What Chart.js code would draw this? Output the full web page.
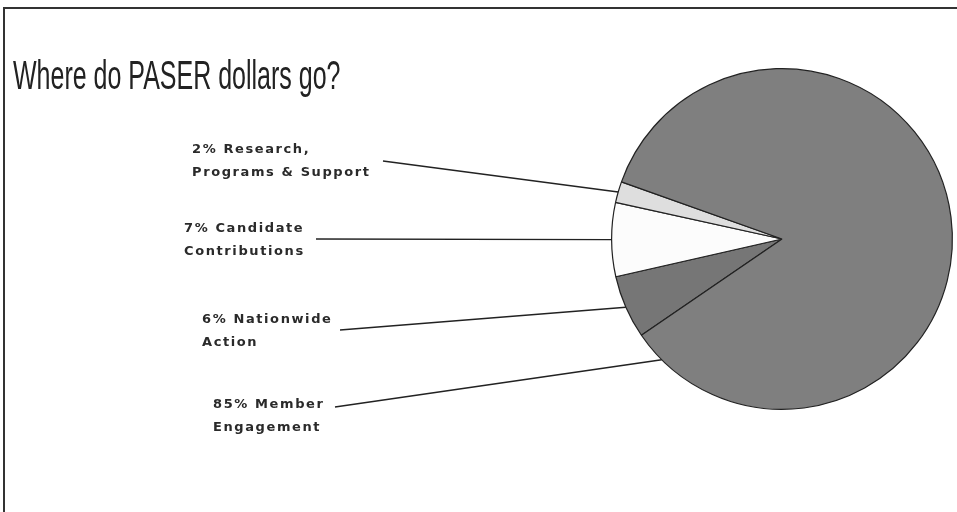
<!DOCTYPE html>
<html>
<head>
<meta charset="utf-8">
<script src="https://cdn.jsdelivr.net/npm/chart.js@4"></script>
<style>
  html, body { margin: 0; padding: 0; background: #fff; }
  #wrap { width: 957px; height: 512px; position: relative; }
</style>
</head>
<body>
<div id="wrap"><canvas id="graph1" width="957" height="512"></canvas></div>
<script>
// slices in clockwise order, starting with the dark 6% slice
let categories = ["Nationwide Action", "Candidate Contributions", "Research, Programs & Support", "Member Engagement"];
let shares = [6, 7, 2, 85];
let labelLines = [
  ["6% Nationwide", "Action"],
  ["7% Candidate", "Contributions"],
  ["2% Research,", "Programs & Support"],
  ["85% Member", "Engagement"]
];
let sliceColors = ["#767676", "#fcfcfc", "#dedede", "#7f7f7f"];

// where each label text sits and where its leader line starts (left side)
let labelBoxes = [
  { x: 202, y: 320, lineFrom: [340, 330], at: 0.5 },
  { x: 184, y: 229, lineFrom: [316, 239], at: 0.5 },
  { x: 192, y: 150, lineFrom: [383, 161], at: 0.5 },
  { x: 213, y: 405, lineFrom: [335, 407], at: 0.965 }
];

const pageDeco = {
  id: "pageDeco",
  beforeDraw(chart) {
    let ctx = chart.ctx;
    ctx.save();
    ctx.fillStyle = "#fff";
    ctx.fillRect(0, 0, chart.width, chart.height);
    // frame, cut off at right and bottom like the scan
    ctx.strokeStyle = "#333";
    ctx.lineWidth = 2;
    ctx.beginPath();
    ctx.moveTo(4, chart.height + 2);
    ctx.lineTo(4, 8);
    ctx.lineTo(chart.width + 2, 8);
    ctx.stroke();
    ctx.restore();
  },
  afterDraw(chart) {
    let ctx = chart.ctx;
    // title, squeezed like the original
    ctx.save();
    ctx.fillStyle = "#222";
    ctx.font = "40px 'Liberation Sans', Arial, sans-serif";
    ctx.textBaseline = "alphabetic";
    ctx.translate(13, 89);
    ctx.scale(0.625, 1);
    ctx.fillText("Where do PASER dollars go?", 0, 0);
    ctx.restore();

    // labels and leader lines
    let arcs = chart.getDatasetMeta(0).data;
    ctx.save();
    ctx.fillStyle = "#2a2a2a";
    ctx.strokeStyle = "#222";
    ctx.lineWidth = 1.4;
    ctx.font = "bold 13px 'DejaVu Sans', sans-serif";
    ctx.letterSpacing = "1.6px";
    ctx.textBaseline = "middle";
    for (let i = 0; i < arcs.length; i++) {
      let a = arcs[i];
      let box = labelBoxes[i];
      let ang = a.startAngle + (a.endAngle - a.startAngle) * box.at;
      let ex = a.x + Math.cos(ang) * a.outerRadius;
      let ey = a.y + Math.sin(ang) * a.outerRadius;
      ctx.beginPath();
      ctx.moveTo(box.lineFrom[0], box.lineFrom[1]);
      ctx.lineTo(ex, ey);
      ctx.stroke();
      for (let j = 0; j < labelLines[i].length; j++) {
        ctx.fillText(labelLines[i][j], box.x, box.y + j * 23);
      }
    }
    ctx.restore();
  }
};

let ctx = document.getElementById("graph1");
new Chart(ctx, {
  type: "pie",
  data: {
    labels: categories,
    datasets: [
      {
        data: shares,
        backgroundColor: sliceColors,
        borderColor: "#222",
        borderWidth: 1.2,
        hoverOffset: 0
      }
    ]
  },
  options: {
    responsive: false,
    animation: false,
    rotation: 235.6,
    layout: {
      padding: { left: 611, right: 4, top: 68, bottom: 102 }
    },
    plugins: {
      legend: { display: false },
      tooltip: { enabled: false }
    }
  },
  plugins: [pageDeco]
});
</script>
</body>
</html>
